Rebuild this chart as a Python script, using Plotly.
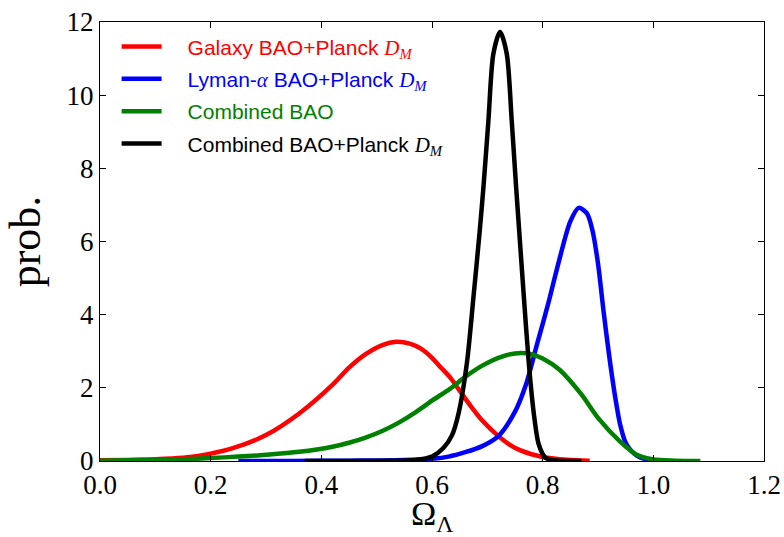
import plotly.graph_objects as go

# Galaxy BAO + Planck D_M
galaxy_x = [0.0, 0.05, 0.10, 0.15, 0.18, 0.24, 0.30, 0.36, 0.42, 0.45, 0.48, 0.51, 0.535, 0.56, 0.58, 0.60, 0.615, 0.633, 0.65, 0.67, 0.69, 0.72, 0.74, 0.76, 0.80, 0.83, 0.86, 0.885]
galaxy_y = [0.02, 0.03, 0.05, 0.09, 0.145, 0.35, 0.71, 1.30, 2.08, 2.55, 2.92, 3.17, 3.26, 3.21, 3.07, 2.82, 2.57, 2.28, 1.92, 1.50, 1.12, 0.68, 0.45, 0.29, 0.11, 0.05, 0.02, 0.01]

# Lyman-alpha BAO + Planck D_M
lya_x = [0.25, 0.35, 0.45, 0.50, 0.55, 0.60, 0.63, 0.66, 0.69, 0.72, 0.75, 0.77, 0.79, 0.81, 0.83, 0.85, 0.865, 0.88, 0.89, 0.90, 0.91, 0.92, 0.93, 0.94, 0.95, 0.96, 0.97, 0.99, 1.01]
lya_y = [0.0, 0.0, 0.01, 0.015, 0.025, 0.06, 0.12, 0.24, 0.40, 0.68, 1.35, 2.1, 3.2, 4.3, 5.5, 6.55, 6.92, 6.77, 6.3, 5.4, 4.1, 2.9, 1.85, 1.0, 0.5, 0.28, 0.15, 0.03, 0.0]

# Combined BAO
comb_x = [0.0, 0.05, 0.10, 0.15, 0.20, 0.25, 0.30, 0.36, 0.42, 0.45, 0.48, 0.51, 0.54, 0.57, 0.60, 0.633, 0.66, 0.69, 0.72, 0.75, 0.78, 0.80, 0.83, 0.87, 0.90, 0.94, 0.97, 1.00, 1.04, 1.085]
comb_y = [0.01, 0.02, 0.03, 0.05, 0.08, 0.12, 0.17, 0.25, 0.39, 0.50, 0.64, 0.82, 1.05, 1.33, 1.65, 1.98, 2.30, 2.60, 2.82, 2.94, 2.92, 2.80, 2.50, 1.82, 1.18, 0.53, 0.17, 0.04, 0.01, 0.0]

# Combined BAO + Planck D_M
combp_x = [0.37, 0.45, 0.52, 0.57, 0.60, 0.621, 0.636, 0.648, 0.663, 0.675, 0.686, 0.693, 0.702, 0.711, 0.723, 0.735, 0.744, 0.752, 0.758, 0.766, 0.775, 0.784, 0.793, 0.805, 0.82, 0.85, 0.87]
combp_y = [0.0, 0.0, 0.005, 0.03, 0.12, 0.36, 0.70, 1.30, 2.67, 4.49, 6.25, 7.49, 9.32, 11.14, 11.73, 11.14, 9.32, 7.49, 6.2, 4.49, 2.67, 1.30, 0.45, 0.09, 0.02, 0.0, 0.0]

x_ticks = [0.0, 0.2, 0.4, 0.6, 0.8, 1.0, 1.2]
y_ticks = [0, 2, 4, 6, 8, 10, 12]

SERIF = 'Liberation Serif'
DM = '<span style="font-family:\'Liberation Serif\'"><i>D</i><sub><i>M</i></sub></span>'
PAD = '\u2002\u2002'

series = [
    (galaxy_x, galaxy_y, '#ff0000', 'Galaxy BAO+Planck ' + DM),
    (lya_x, lya_y, '#0000ff', 'Lyman-<span style="font-family:\'Liberation Serif\'"><i>α</i></span> BAO+Planck ' + DM),
    (comb_x, comb_y, '#008000', 'Combined BAO'),
    (combp_x, combp_y, '#000000', 'Combined BAO+Planck ' + DM),
]

fig = go.Figure()
for i, (xs, ys, col, name) in enumerate(series):
    fig.add_trace(go.Scatter(
        x=xs, y=ys, mode='lines',
        line=dict(color=col, width=4.5, shape='spline', smoothing=0.8),
        name=PAD + '<span style="color:%s">%s</span>' % (col, name),
        legendgroup='g%d' % i,
    ))

axis_common = dict(
    showgrid=False, zeroline=False, showline=True, linecolor='black', linewidth=1,
    mirror='ticks', ticks='inside', ticklen=6, tickcolor='black', tickwidth=1,
    tickfont=dict(family=SERIF, size=27, color='black'), automargin=False,
)

fig.update_layout(
    width=784, height=537,
    margin=dict(l=100, r=20, t=22, b=76),
    paper_bgcolor='white', plot_bgcolor='white',
    showlegend=True,
    legend=dict(
        x=0.025, y=0.99, xanchor='left', yanchor='top',
        font=dict(family='Liberation Sans', size=21, color='black'),
        bgcolor='rgba(0,0,0,0)', borderwidth=0,
        traceorder='grouped', tracegroupgap=2, itemwidth=40,
    ),
    xaxis=dict(range=[0, 1.2], tickvals=x_ticks, ticktext=['%.1f' % v for v in x_ticks], **axis_common),
    yaxis=dict(range=[0, 12], tickvals=y_ticks, ticktext=[str(v) for v in y_ticks],
               title=dict(text='prob.', font=dict(family=SERIF, size=44, color='black'), standoff=12),
               **axis_common),
    annotations=[dict(
        text='Ω<sub>Λ</sub>', xref='paper', yref='paper', x=0.5, y=-0.073,
        xanchor='center', yanchor='top', showarrow=False,
        font=dict(family=SERIF, size=34, color='black'),
    )],
)

fig.write_html('out.html')
